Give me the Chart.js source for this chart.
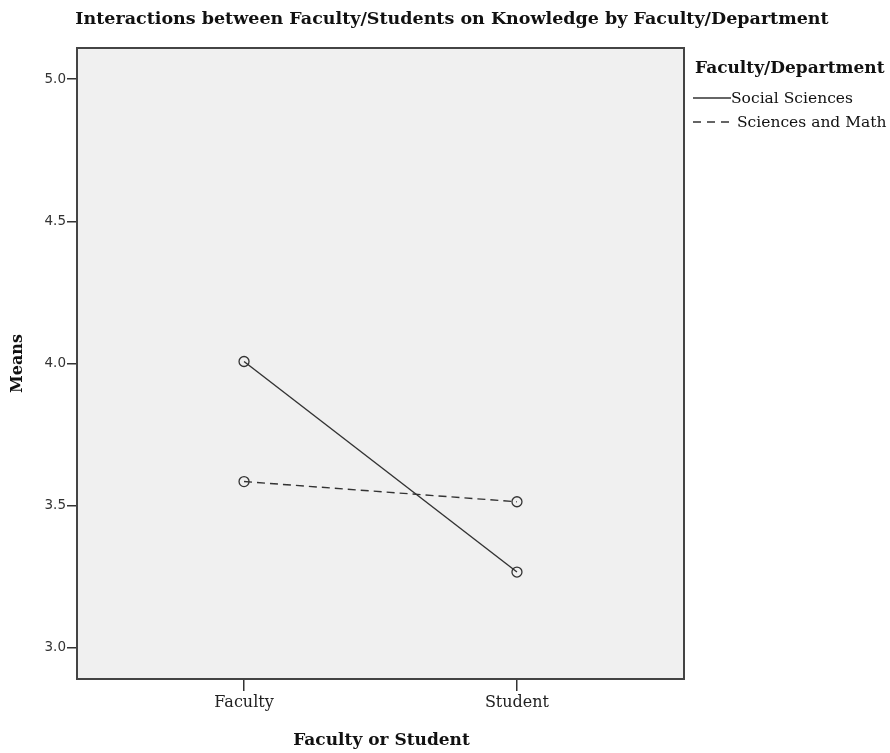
<!DOCTYPE html>
<html>
<head>
<meta charset="utf-8">
<script src="https://cdn.jsdelivr.net/npm/chart.js@4"></script>
<style>
  html, body { margin: 0; padding: 0; background: #fff; }
  #wrap { width: 890px; height: 753px; position: relative; }
</style>
</head>
<body>
<div id="wrap"><canvas id="chart" width="890" height="753"></canvas></div>
<script>
const chartTitle = 'Interactions between Faculty/Students on Knowledge by Faculty/Department';
const xTitle = 'Faculty or Student';
const yTitle = 'Means';
const legendTitle = 'Faculty/Department';
const categories = ['Faculty', 'Student'];
const socialSciences = [4.007, 3.267];
const sciencesMath = [3.585, 3.514];
const yTicks = [3.0, 3.5, 4.0, 4.5, 5.0];

const ink = '#333333';
const serif = '"DejaVu Serif", serif';

const toPoints = (vals) => vals.map((v, i) => ({ x: i, y: v }));

// background + frame of plot area, titles and legend
const decor = {
  id: 'decor',
  beforeDatasetsDraw(chart) {
    const { ctx, chartArea: a } = chart;
    ctx.save();
    ctx.fillStyle = '#f0f0f0';
    ctx.fillRect(a.left, a.top, a.right - a.left, a.bottom - a.top);
    ctx.restore();
  },
  afterDraw(chart) {
    const { ctx, chartArea: a } = chart;
    ctx.save();
    ctx.strokeStyle = '#444';
    ctx.lineWidth = 2;
    ctx.strokeRect(a.left, a.top, a.right - a.left, a.bottom - a.top);

    ctx.fillStyle = '#111';
    ctx.textAlign = 'center';
    ctx.textBaseline = 'middle';
    ctx.font = 'bold 17.5px ' + serif;
    ctx.fillText(chartTitle, 452, 19);
    ctx.font = 'bold 17px ' + serif;
    ctx.fillText(xTitle, (a.left + a.right) / 2 + 1, 741);
    ctx.font = 'bold 16px ' + serif;
    ctx.save();
    ctx.translate(18, (a.top + a.bottom) / 2);
    ctx.rotate(-Math.PI / 2);
    ctx.fillText(yTitle, 0, 0);
    ctx.restore();

    // legend
    ctx.textAlign = 'left';
    ctx.font = 'bold 17px ' + serif;
    ctx.fillText(legendTitle, 695, 69);
    ctx.font = '15.5px ' + serif;
    chart.data.datasets.forEach((ds, i) => {
      const y = 98 + i * 24;
      ctx.strokeStyle = ink;
      ctx.lineWidth = 1.3;
      ctx.setLineDash(ds.borderDash ? [8, 6] : []);
      ctx.beginPath();
      ctx.moveTo(693, y);
      ctx.lineTo(i === 0 ? 731 : 729, y);
      ctx.stroke();
      ctx.setLineDash([]);
      ctx.fillStyle = '#111';
      ctx.fillText(ds.label, i === 0 ? 731 : 737, y + 1);
    });
    ctx.restore();
  }
};

new Chart(document.getElementById('chart'), {
  type: 'line',
  data: {
    datasets: [
      {
        label: 'Social Sciences',
        data: toPoints(socialSciences),
        borderColor: ink,
        borderWidth: 1.4,
        pointRadius: 5,
        pointBorderWidth: 1.3,
        pointBorderColor: ink,
        pointBackgroundColor: 'rgba(0,0,0,0)',
        fill: false,
      },
      {
        label: 'Sciences and Math',
        data: toPoints(sciencesMath),
        borderColor: ink,
        borderWidth: 1.4,
        borderDash: [8, 5],
        pointRadius: 5,
        pointBorderWidth: 1.3,
        pointBorderColor: ink,
        pointBackgroundColor: 'rgba(0,0,0,0)',
        fill: false,
      },
    ],
  },
  options: {
    responsive: false,
    animation: false,
    layout: { padding: { left: 0, top: 48, right: 206, bottom: 0 } },
    plugins: { legend: { display: false }, title: { display: false }, tooltip: { enabled: false } },
    scales: {
      x: {
        type: 'linear',
        min: -0.612,
        max: 1.612,
        afterBuildTicks: (s) => { s.ticks = categories.map((c, i) => ({ value: i })); },
        afterFit: (s) => { s.height = 74; },
        border: { display: false },
        grid: { drawOnChartArea: false, drawTicks: true, tickLength: 12, color: ink, lineWidth: 1.5 },
        ticks: {
          padding: 2,
          color: '#222',
          font: { family: serif, size: 16 },
          callback: (v) => categories[v],
        },
      },
      y: {
        min: 2.891,
        max: 5.109,
        afterBuildTicks: (s) => { s.ticks = yTicks.map((v) => ({ value: v })); },
        afterFit: (s) => { s.width = 77; },
        border: { display: false },
        grid: { drawOnChartArea: false, drawTicks: true, tickLength: 10, color: ink, lineWidth: 1.5 },
        ticks: {
          padding: 1,
          color: '#333',
          font: { family: '"DejaVu Sans", sans-serif', size: 13.5 },
          callback: (v) => v.toFixed(1),
        },
      },
    },
  },
  plugins: [decor],
});
</script>
</body>
</html>
